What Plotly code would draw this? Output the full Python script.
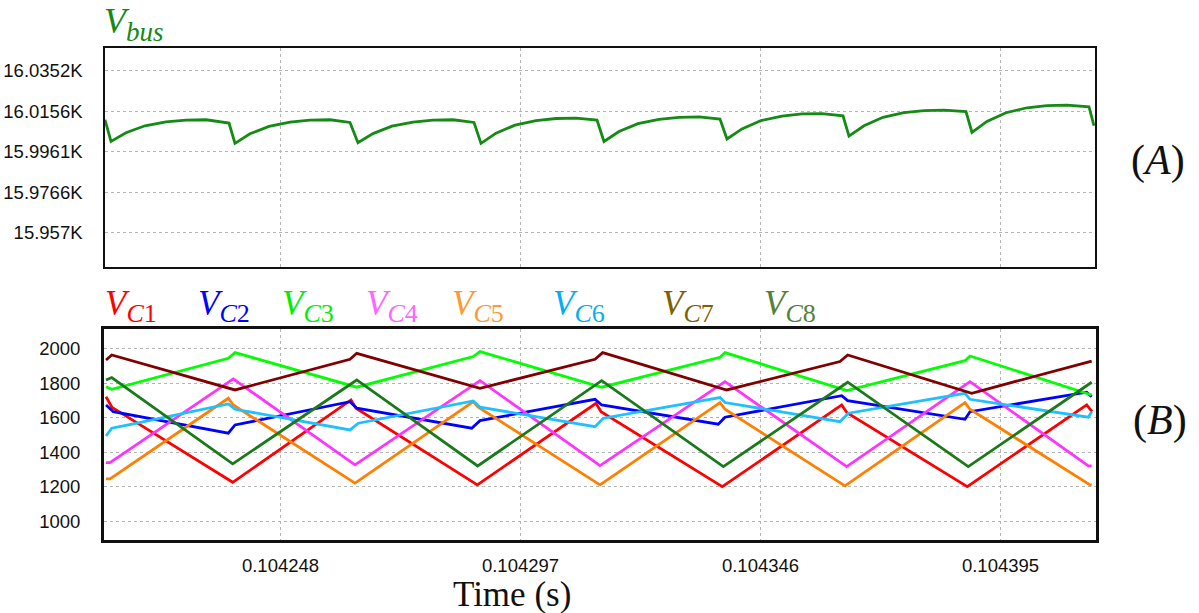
import plotly.graph_objects as go

# Time is stored as microseconds after 0.1042 s
T0 = 0.1042

# ---- Panel A: bus voltage ----
t_bus = [12.17, 13.39, 16.45, 20.33, 24.62, 28.70, 32.79, 37.49,
         38.71, 41.77, 45.65, 49.94, 54.02, 58.11, 62.19,
         63.82, 66.88, 70.76, 75.05, 79.13, 83.22, 87.51,
         88.94, 92.00, 95.88, 100.17, 104.25, 108.34, 112.62,
         114.05, 117.11, 120.99, 125.28, 129.36, 133.45, 137.73,
         139.16, 142.22, 146.10, 150.39, 154.47, 158.56, 162.85,
         164.07, 167.13, 171.01, 175.30, 179.38, 183.47, 187.96,
         189.18, 192.24, 196.12, 200.41, 204.49, 208.58, 213.07,
         214.09]
v_bus = [16011.6, 16001.1, 16005.3, 16008.7, 16010.6, 16011.4, 16011.6, 16010.0,
         16000.2, 16004.8, 16008.4, 16010.5, 16011.4, 16011.6, 16010.3,
         16000.5, 16004.9, 16008.5, 16010.5, 16011.4, 16011.6, 16010.3,
         16000.2, 16005.1, 16009.0, 16011.2, 16012.2, 16012.4, 16011.4,
         16001.1, 16005.9, 16009.7, 16011.8, 16012.8, 16013.0, 16011.9,
         16002.3, 16007.2, 16011.2, 16013.4, 16014.4, 16014.6, 16013.5,
         16003.7, 16008.7, 16012.8, 16015.0, 16016.0, 16016.3, 16015.6,
         16005.5, 16010.8, 16015.0, 16017.4, 16018.4, 16018.7, 16017.9,
         16008.7]

# ---- Panel B: capacitor voltages ----
t_c1 = [12.37, 13.60, 38.24, 62.39, 63.41, 88.18, 112.42, 113.44, 138.20, 162.58, 163.66, 188.22, 212.60, 213.68]
v_c1 = [1723, 1661, 1226, 1704, 1656, 1211, 1685, 1636, 1201, 1675, 1630, 1201, 1675, 1636]

t_c2 = [12.37, 13.86, 37.34, 38.71, 62.19, 63.56, 87.04, 88.73, 112.21, 113.58,
        137.38, 138.75, 162.58, 163.80, 187.75, 188.77, 212.60, 213.62]
v_c2 = [1675, 1636, 1511, 1559, 1694, 1656, 1540, 1584, 1708, 1675,
        1563, 1604, 1729, 1700, 1592, 1636, 1749, 1723]

t_c3 = [12.37, 13.54, 37.34, 38.71, 63.56, 87.36, 88.73, 113.58, 137.73, 138.75,
        163.60, 187.75, 188.77, 213.62]
v_c3 = [1781, 1766, 1946, 1979, 1778, 1956, 1985, 1778, 1952, 1979,
        1758, 1932, 1959, 1733]

t_c4 = [12.37, 13.19, 38.36, 63.21, 88.73, 113.23, 138.75, 163.60, 188.77, 212.93, 213.62]
v_c4 = [1340, 1340, 1826, 1327, 1816, 1323, 1810, 1317, 1810, 1321, 1321]

t_c5 = [12.37, 13.19, 37.34, 38.36, 63.21, 87.36, 88.38, 113.23, 137.73, 138.75,
        163.25, 187.75, 188.77, 213.28, 213.62]
v_c5 = [1246, 1246, 1714, 1675, 1221, 1694, 1662, 1211, 1689, 1650,
        1205, 1689, 1650, 1211, 1211]

t_c6 = [12.37, 13.54, 17.95, 37.34, 38.71, 62.19, 63.88, 87.36, 88.73, 112.21,
        113.91, 137.73, 138.75, 162.23, 163.93, 187.75, 188.77, 212.93, 213.62]
v_c6 = [1495, 1540, 1565, 1681, 1650, 1530, 1569, 1698, 1662, 1549,
        1598, 1718, 1689, 1578, 1627, 1743, 1708, 1604, 1636]

t_c7 = [12.37, 13.54, 38.71, 62.19, 63.56, 88.73, 112.21, 113.78, 139.10, 162.23,
        163.80, 189.12, 213.62]
v_c7 = [1936, 1965, 1762, 1940, 1975, 1772, 1940, 1979, 1762, 1927,
        1965, 1743, 1930]

t_c8 = [12.37, 13.54, 38.24, 63.56, 88.26, 113.58, 138.41, 163.80, 188.42, 213.62]
v_c8 = [1820, 1834, 1333, 1820, 1321, 1816, 1317, 1807, 1317, 1807]

cap_names = ["C1", "C2", "C3", "C4", "C5", "C6", "C7", "C8"]
cap_t = [t_c1, t_c2, t_c3, t_c4, t_c5, t_c6, t_c7, t_c8]
cap_v = [v_c1, v_c2, v_c3, v_c4, v_c5, v_c6, v_c7, v_c8]
line_colors = ["#ff0000", "#0000ff", "#00ff00", "#ff33ff", "#ff8000", "#1ec0ff", "#800000", "#1a7a1a"]
label_colors = ["#ff0000", "#0000ff", "#00ee00", "#ff66ff", "#ff9933", "#00b0f0", "#7f6000", "#548235"]

x_tick_labels = ["0.104248", "0.104297", "0.104346", "0.104395"]
a_tick_vals = [15957, 15976.6, 15996.1, 16015.6, 16035.2]
a_tick_text = ["15.957K", "15.9766K", "15.9961K", "16.0156K", "16.0352K"]
b_tick_vals = [1000, 1200, 1400, 1600, 1800, 2000]


def sec(us_list):
    return [T0 + u * 1e-6 for u in us_list]


W, H = 1199, 613
px = lambda x: x / W
py = lambda y: 1 - y / H

fig = go.Figure()
fig.add_trace(go.Scatter(x=sec(t_bus), y=v_bus, xaxis="x", yaxis="y", mode="lines",
                         line=dict(color="#158a15", width=2.8), name="Vbus", showlegend=False))
for n, t, v, c in zip(cap_names, cap_t, cap_v, line_colors):
    fig.add_trace(go.Scatter(x=sec(t), y=v, xaxis="x2", yaxis="y2", mode="lines",
                             line=dict(color=c, width=2.8), name="V" + n, showlegend=False))

x_tick_vals = [float(s) for s in x_tick_labels]
tick_font = dict(family="Liberation Sans, Arial", size=18.5, color="#111111")
grid = dict(showgrid=True, gridcolor="#b4b4b4", griddash="dot", gridwidth=1, zeroline=False)

fig.update_layout(
    width=W, height=H,
    margin=dict(l=0, r=0, t=0, b=0),
    paper_bgcolor="white", plot_bgcolor="white",
    xaxis=dict(domain=[px(105), px(1095)], range=sec([12.17, 214.3]), anchor="y",
               tickvals=x_tick_vals, showticklabels=False, ticks="",
               showline=True, mirror=True, linecolor="#111111", linewidth=1.5, **grid),
    yaxis=dict(domain=[py(267), py(48)], range=[15940.4, 16046.3], anchor="x",
               tickvals=a_tick_vals, ticktext=a_tick_text, tickfont=tick_font, ticks="",
               ticklabelstandoff=17,
               showline=True, mirror=True, linecolor="#111111", linewidth=1.5, **grid),
    xaxis2=dict(domain=[px(104), px(1096)], range=sec([11.96, 214.5]), anchor="y2",
                tickvals=x_tick_vals, ticktext=x_tick_labels, tickfont=tick_font, ticks="",
                ticklabelstandoff=7,
                showline=True, mirror=True, linecolor="#111111", linewidth=3, **grid),
    yaxis2=dict(domain=[py(540), py(329)], range=[891, 2116], anchor="x2",
                tickvals=b_tick_vals, tickfont=tick_font, ticks="",
                ticklabelstandoff=17,
                showline=True, mirror=True, linecolor="#111111", linewidth=3, **grid),
)

serif = "Liberation Serif, DejaVu Serif, serif"


def sub_label(main, sub_html, sub_size):
    return ("<i>" + main + "</i><sub><span style='font-size:" + str(sub_size) + "px'>"
            + sub_html + "</span></sub>")


ann = []
ann.append(dict(x=px(102), y=py(24), xref="paper", yref="paper", xanchor="left", yanchor="middle",
                text=sub_label("V", "<i>bus</i>", 27), showarrow=False,
                font=dict(family=serif, size=36, color="#148a14")))
label_x = [103, 196, 280, 364, 450, 551, 660, 762]
for n, c, lx in zip(cap_names, label_colors, label_x):
    ann.append(dict(x=px(lx), y=py(306), xref="paper", yref="paper", xanchor="left", yanchor="middle",
                    text=sub_label("V", "<i>" + n[0] + "</i>" + n[1], 26), showarrow=False,
                    font=dict(family=serif, size=35, color=c)))
ann.append(dict(x=px(1158), y=py(160), xref="paper", yref="paper", xanchor="center", yanchor="middle",
                text="(<i>A</i>)", showarrow=False, font=dict(family=serif, size=42, color="#111111")))
ann.append(dict(x=px(1160), y=py(420), xref="paper", yref="paper", xanchor="center", yanchor="middle",
                text="(<i>B</i>)", showarrow=False, font=dict(family=serif, size=42, color="#111111")))
ann.append(dict(x=px(512), y=py(594), xref="paper", yref="paper", xanchor="center", yanchor="middle",
                text="Time (s)", showarrow=False, font=dict(family=serif, size=35, color="#111111")))
fig.update_layout(annotations=ann)

fig.write_html("out.html", config={"displayModeBar": False},
               post_script="document.body.style.margin='0';")
